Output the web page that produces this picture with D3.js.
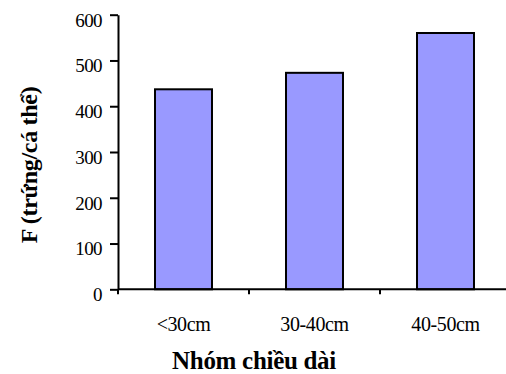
<!DOCTYPE html>
<html>
<head>
<meta charset="utf-8">
<script src="https://cdn.jsdelivr.net/npm/d3@7"></script>
<style>
  html, body { margin: 0; padding: 0; background: #fff; }
  svg { display: block; }
</style>
</head>
<body>
<svg id="chart" width="506" height="374"></svg>
<script>
// Fecundity by length group
const categories = ["<30cm", "30-40cm", "40-50cm"];
const fecundity = [437, 473, 560];
const yTicks = [0, 100, 200, 300, 400, 500, 600];

const serif = "'Liberation Serif', 'Times New Roman', serif";
const svg = d3.select("#chart");

const plotLeft = 118, plotRight = 511, plotTop = 14.7, plotBottom = 289.3;

const x = d3.scaleBand()
  .domain(categories)
  .range([plotLeft, plotRight])
  .paddingInner(0.565)
  .paddingOuter(0.2825);

const y = d3.scaleLinear().domain([0, 600]).range([plotBottom, plotTop]);

const gap = (x.step() - x.bandwidth()) / 2;

// Bars
svg.append("g")
  .selectAll("rect")
  .data(categories)
  .join("rect")
  .attr("x", d => x(d))
  .attr("y", (d, i) => y(fecundity[i]))
  .attr("width", x.bandwidth())
  .attr("height", (d, i) => y(0) - y(fecundity[i]))
  .attr("fill", "#9999ff")
  .attr("stroke", "#000")
  .attr("stroke-width", 2);

// Y axis
const yAxis = svg.append("g")
  .attr("transform", `translate(${plotLeft},0)`)
  .call(d3.axisLeft(y).tickValues(yTicks).tickSize(8).tickSizeOuter(0).tickPadding(8));
yAxis.select(".domain").attr("stroke", "#000").attr("stroke-width", 2);
yAxis.selectAll(".tick line").attr("stroke", "#000").attr("stroke-width", 2);
yAxis.selectAll(".tick text")
  .style("font-family", serif)
  .style("font-size", "19px")
  .style("letter-spacing", "-0.6px")
  .attr("fill", "#000")
  .attr("dy", "0.6em");

// X axis: line with ticks at the category boundaries
const bounds = categories.map(c => x(c) - gap)
  .concat([x(categories[categories.length - 1]) + x.bandwidth() + gap]);
const xg = svg.append("g");
xg.append("line")
  .attr("x1", plotLeft).attr("x2", plotRight)
  .attr("y1", y(0)).attr("y2", y(0))
  .attr("stroke", "#000").attr("stroke-width", 2);
xg.selectAll("line.tick")
  .data(bounds)
  .join("line")
  .attr("class", "tick")
  .attr("x1", d => d).attr("x2", d => d)
  .attr("y1", y(0)).attr("y2", y(0) + 5)
  .attr("stroke", "#000").attr("stroke-width", 2);
xg.selectAll("text")
  .data(categories)
  .join("text")
  .attr("x", d => x(d) + x.bandwidth() / 2)
  .attr("y", 331)
  .attr("text-anchor", "middle")
  .style("font-family", serif)
  .style("font-size", "20px")
  .style("letter-spacing", "-0.4px")
  .text(d => d);

// Axis titles
svg.append("text")
  .attr("x", 254)
  .attr("y", 369)
  .attr("text-anchor", "middle")
  .style("font-family", serif)
  .style("font-weight", "bold")
  .style("font-size", "25px")
  .style("letter-spacing", "-0.3px")
  .text("Nhóm chiều dài");

svg.append("text")
  .attr("transform", "translate(37,165) rotate(-90)")
  .attr("text-anchor", "middle")
  .style("font-family", serif)
  .style("font-weight", "bold")
  .style("font-size", "24px")
  .style("letter-spacing", "-0.3px")
  .text("F (trứng/cá thể)");
</script>
</body>
</html>
